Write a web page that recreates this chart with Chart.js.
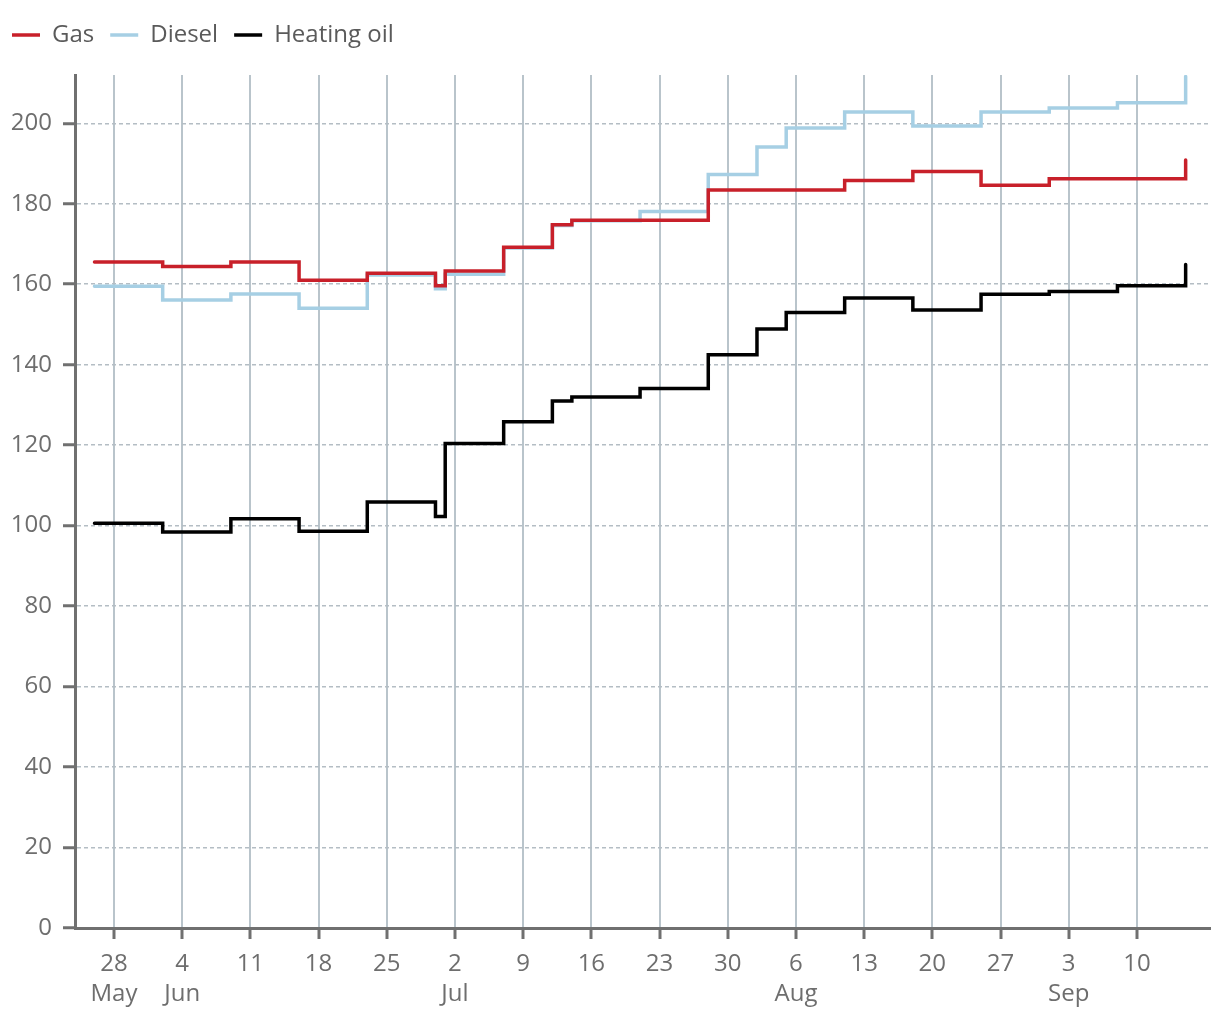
<!DOCTYPE html>
<html>
<head>
<meta charset="utf-8">
<script src="https://cdn.jsdelivr.net/npm/chart.js@4/dist/chart.umd.min.js"></script>
<style>
html,body{margin:0;padding:0;background:#fff;}
canvas{display:block;}
</style>
</head>
<body>
<canvas id="c" width="1220" height="1020"></canvas>
<script>
// ---- data ----
const seriesNames = ['Gas', 'Diesel', 'Heating oil'];
const seriesColors = ['#c8202a', '#a6cfe4', '#000000'];

const gasDates = ['2022-05-26','2022-06-02','2022-06-09','2022-06-16','2022-06-23','2022-06-30','2022-07-01','2022-07-07','2022-07-12','2022-07-14','2022-07-28','2022-08-11','2022-08-18','2022-08-25','2022-09-01','2022-09-15'];
const gasValues = [165.5, 164.4, 165.5, 161.0, 162.7, 159.6, 163.3, 169.2, 174.8, 175.9, 183.4, 185.8, 188.0, 184.6, 186.2, 190.9];

const dieselDates = ['2022-05-26','2022-06-02','2022-06-09','2022-06-16','2022-06-23','2022-06-30','2022-07-01','2022-07-07','2022-07-12','2022-07-14','2022-07-21','2022-07-28','2022-08-02','2022-08-05','2022-08-11','2022-08-18','2022-08-25','2022-09-01','2022-09-08','2022-09-15'];
const dieselValues = [159.5, 156.1, 157.6, 154.0, 162.3, 158.9, 162.5, 169.0, 174.6, 175.8, 178.1, 187.3, 194.1, 198.8, 202.8, 199.3, 202.8, 203.8, 205.1, 211.6];

const oilDates = ['2022-05-26','2022-06-02','2022-06-09','2022-06-16','2022-06-23','2022-06-30','2022-07-01','2022-07-07','2022-07-12','2022-07-14','2022-07-21','2022-07-28','2022-08-02','2022-08-05','2022-08-11','2022-08-18','2022-08-25','2022-09-01','2022-09-08','2022-09-15'];
const oilValues = [100.6, 98.4, 101.7, 98.6, 105.9, 102.3, 120.4, 125.8, 131.0, 132.0, 134.1, 142.5, 148.9, 153.0, 156.6, 153.6, 157.5, 158.2, 159.6, 164.9];

const xTickDates = ['2022-05-28','2022-06-04','2022-06-11','2022-06-18','2022-06-25','2022-07-02','2022-07-09','2022-07-16','2022-07-23','2022-07-30','2022-08-06','2022-08-13','2022-08-20','2022-08-27','2022-09-03','2022-09-10'];
const monthNames = ['Jan','Feb','Mar','Apr','May','Jun','Jul','Aug','Sep','Oct','Nov','Dec'];
const yTicks = [0, 20, 40, 60, 80, 100, 120, 140, 160, 180, 200];

const xStartDate = '2022-05-24';
const xEndDate = '2022-09-17';
const yMax = 212;

// ---- helpers ----
const DAY = 86400000;
const toX = d => Date.parse(d + 'T00:00:00Z');
const pts = (dates, vals) => dates.map((d, i) => ({ x: toX(d), y: vals[i] }));
const xTickValues = xTickDates.map(toX);

const FONT = '"Open Sans", "Noto Sans", sans-serif';
const AXIS = '#707070';

const lineDs = (i, data) => ({
  label: seriesNames[i],
  data,
  borderColor: seriesColors[i],
  backgroundColor: seriesColors[i],
  borderWidth: 3.5,
  stepped: 'before',
  pointRadius: 0,
  pointHoverRadius: 0,
  borderCapStyle: 'round',
  borderJoinStyle: 'miter',
  tension: 0
});

const legendHeight = {
  id: 'legendHeight',
  afterInit(chart) {
    const lg = chart.legend;
    if (!lg) return;
    const fit = lg.fit;
    lg.fit = function () { fit.call(this); this.height = 68; };
  }
};

new Chart(document.getElementById('c'), {
  type: 'line',
  data: {
    datasets: [
      lineDs(0, pts(gasDates, gasValues)),
      lineDs(1, pts(dieselDates, dieselValues)),
      lineDs(2, pts(oilDates, oilValues))
    ]
  },
  plugins: [legendHeight],
  options: {
    responsive: false,
    animation: false,
    devicePixelRatio: 1,
    layout: { padding: { left: -4, top: 7, right: 10, bottom: 0 } },
    plugins: {
      tooltip: { enabled: false },
      legend: {
        display: true,
        position: 'top',
        align: 'start',
        labels: {
          usePointStyle: true,
          pointStyle: 'line',
          pointStyleWidth: 28,
          boxWidth: 28,
          padding: 16,
          color: '#5a5a5a',
          font: { family: FONT, size: 24, weight: '400' }
        }
      }
    },
    scales: {
      x: {
        type: 'linear',
        min: toX(xStartDate),
        max: toX(xEndDate) + DAY / 2,
        afterBuildTicks(s) { s.ticks = xTickValues.map(v => ({ value: v })); },
        afterFit(s) { s.height = 92; },
        ticks: {
          autoSkip: false,
          maxRotation: 0,
          padding: 10,
          color: '#6e6e6e',
          font: { family: FONT, size: 24, weight: '400', lineHeight: 1.25 },
          callback(value) {
            const i = xTickValues.indexOf(value);
            const d = new Date(value);
            const m = d.getUTCMonth();
            const prev = i > 0 ? new Date(xTickValues[i - 1]).getUTCMonth() : -1;
            const day = String(d.getUTCDate());
            return m !== prev ? [day, monthNames[m]] : day;
          }
        },
        grid: {
          color: '#b9c4cb',
          lineWidth: 2,
          drawTicks: true,
          tickLength: 11,
          tickColor: AXIS,
          tickWidth: 3
        },
        border: { display: true, color: AXIS, width: 3 }
      },
      y: {
        type: 'linear',
        min: 0,
        max: yMax,
        afterBuildTicks(s) { s.ticks = yTicks.map(v => ({ value: v })); },
        afterFit(s) { s.width = 79; },
        ticks: {
          padding: 11,
          color: '#6e6e6e',
          font: { family: FONT, size: 24, weight: '400' }
        },
        grid: {
          color: '#b4bdc4',
          lineWidth: 1.5,
          drawTicks: true,
          tickLength: 12,
          tickColor: AXIS,
          tickWidth: 3
        },
        border: { display: true, color: AXIS, width: 3, dash: [4, 3] }
      }
    }
  }
});
</script>
</body>
</html>
